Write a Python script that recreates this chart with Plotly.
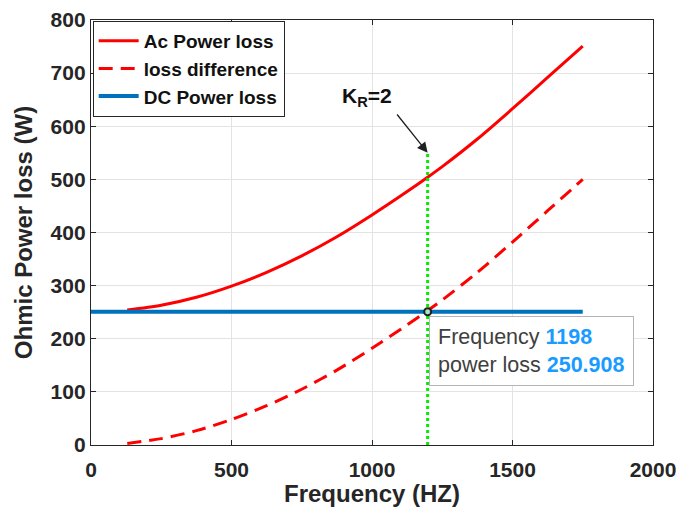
import plotly.graph_objects as go

# Frequency samples (Hz)
freq = [129, 250, 375, 500, 625, 750, 875, 1000, 1125, 1198, 1250, 1375, 1500, 1625, 1750]
# AC ohmic power loss (W)
ac_loss = [254, 263, 278, 299, 325, 356, 392, 433, 477, 504, 524, 576, 633, 692, 751]
# Loss difference AC - DC (W)
loss_diff = [3, 12, 27, 48, 74, 105, 141, 182, 226, 253, 273, 325, 382, 441, 500]
# DC power loss (W)
dc_freq = [0, 1750]
dc_loss = [250.908, 250.908]
# K_R = 2 marker line
kr_freq = [1198, 1198]
kr_loss = [0, 550]
tip_freq = 1198
tip_loss = 250.908

FONT = "Liberation Sans, Arial, Helvetica, sans-serif"
DARK = "#262626"

fig = go.Figure()
fig.add_trace(go.Scatter(x=freq, y=ac_loss, mode="lines", name="Ac Power loss",
                         line=dict(color="#ff0000", width=3, shape="spline", smoothing=0.8)))
fig.add_trace(go.Scatter(x=freq, y=loss_diff, mode="lines", name="loss difference",
                         line=dict(color="#ff0000", width=3, dash="14px,8px",
                                   shape="spline", smoothing=0.8)))
fig.add_trace(go.Scatter(x=dc_freq, y=dc_loss, mode="lines", name="DC Power loss",
                         line=dict(color="#0072bd", width=4)))
fig.add_trace(go.Scatter(x=kr_freq, y=kr_loss, mode="lines", showlegend=False,
                         line=dict(color="#00ee00", width=3, dash="3px,3px")))
fig.add_trace(go.Scatter(x=[tip_freq], y=[tip_loss], mode="markers", showlegend=False,
                         marker=dict(size=7, color="rgba(255,255,255,0.6)",
                                     line=dict(color="#202020", width=2))))

fig.add_annotation(x=1198, y=550, ax=1085, ay=625, xref="x", yref="y",
                   axref="x", ayref="y", showarrow=True, arrowhead=2,
                   arrowsize=1.6, arrowwidth=1.3, arrowcolor="#202020", text="")
fig.add_annotation(x=983, y=655, xref="x", yref="y", showarrow=False,
                   text="<b>K<sub>R</sub>=2</b>",
                   font=dict(family=FONT, size=21, color="#111111"))

tip_text = ("Frequency <b><span style='color:#1a9bff'>%d</span></b><br>"
            "power loss <b><span style='color:#1a9bff'>%.3f</span></b>") % (tip_freq, tip_loss)
fig.add_annotation(x=1202, y=177, xref="x", yref="y", xanchor="left", yanchor="middle",
                   showarrow=False, text=tip_text, align="left",
                   font=dict(family=FONT, size=21.5, color="#404040"),
                   bgcolor="rgba(255,255,255,0.95)", bordercolor="#b4b4b4",
                   borderwidth=1, borderpad=8)

# x-axis title placed under the tick labels
fig.add_annotation(x=0.5, y=-0.113, xref="paper", yref="paper", showarrow=False,
                   xanchor="center", yanchor="middle", text="<b>Frequency (HZ)</b>",
                   font=dict(family=FONT, size=24, color=DARK))

axis_common = dict(showgrid=True, gridcolor="#e3e3e3", gridwidth=1,
                   showline=True, linecolor=DARK, linewidth=1.3, mirror="allticks",
                   ticks="inside", ticklen=5, tickcolor=DARK, zeroline=False,
                   automargin=False,
                   tickfont=dict(family=FONT, size=21, color=DARK, weight="bold"))

fig.update_xaxes(range=[0, 2000], tickvals=[0, 500, 1000, 1500, 2000],
                 ticklabelstandoff=6, **axis_common)
fig.update_yaxes(range=[0, 800], tickvals=[0, 100, 200, 300, 400, 500, 600, 700, 800],
                 title=dict(text="Ohmic Power loss (W)", standoff=11,
                            font=dict(family=FONT, size=24, color=DARK, weight="bold")),
                 **axis_common)

fig.update_layout(width=679, height=513, paper_bgcolor="white", plot_bgcolor="white",
                  margin=dict(l=91, r=26, t=20, b=68),
                  legend=dict(x=0.003, y=0.998, xanchor="left", yanchor="top",
                              bgcolor="white", bordercolor=DARK, borderwidth=1,
                              font=dict(family=FONT, size=19, color="#111111", weight="bold"),
                              tracegroupgap=0, itemwidth=40),
                  showlegend=True)

fig.write_html("out.html")
